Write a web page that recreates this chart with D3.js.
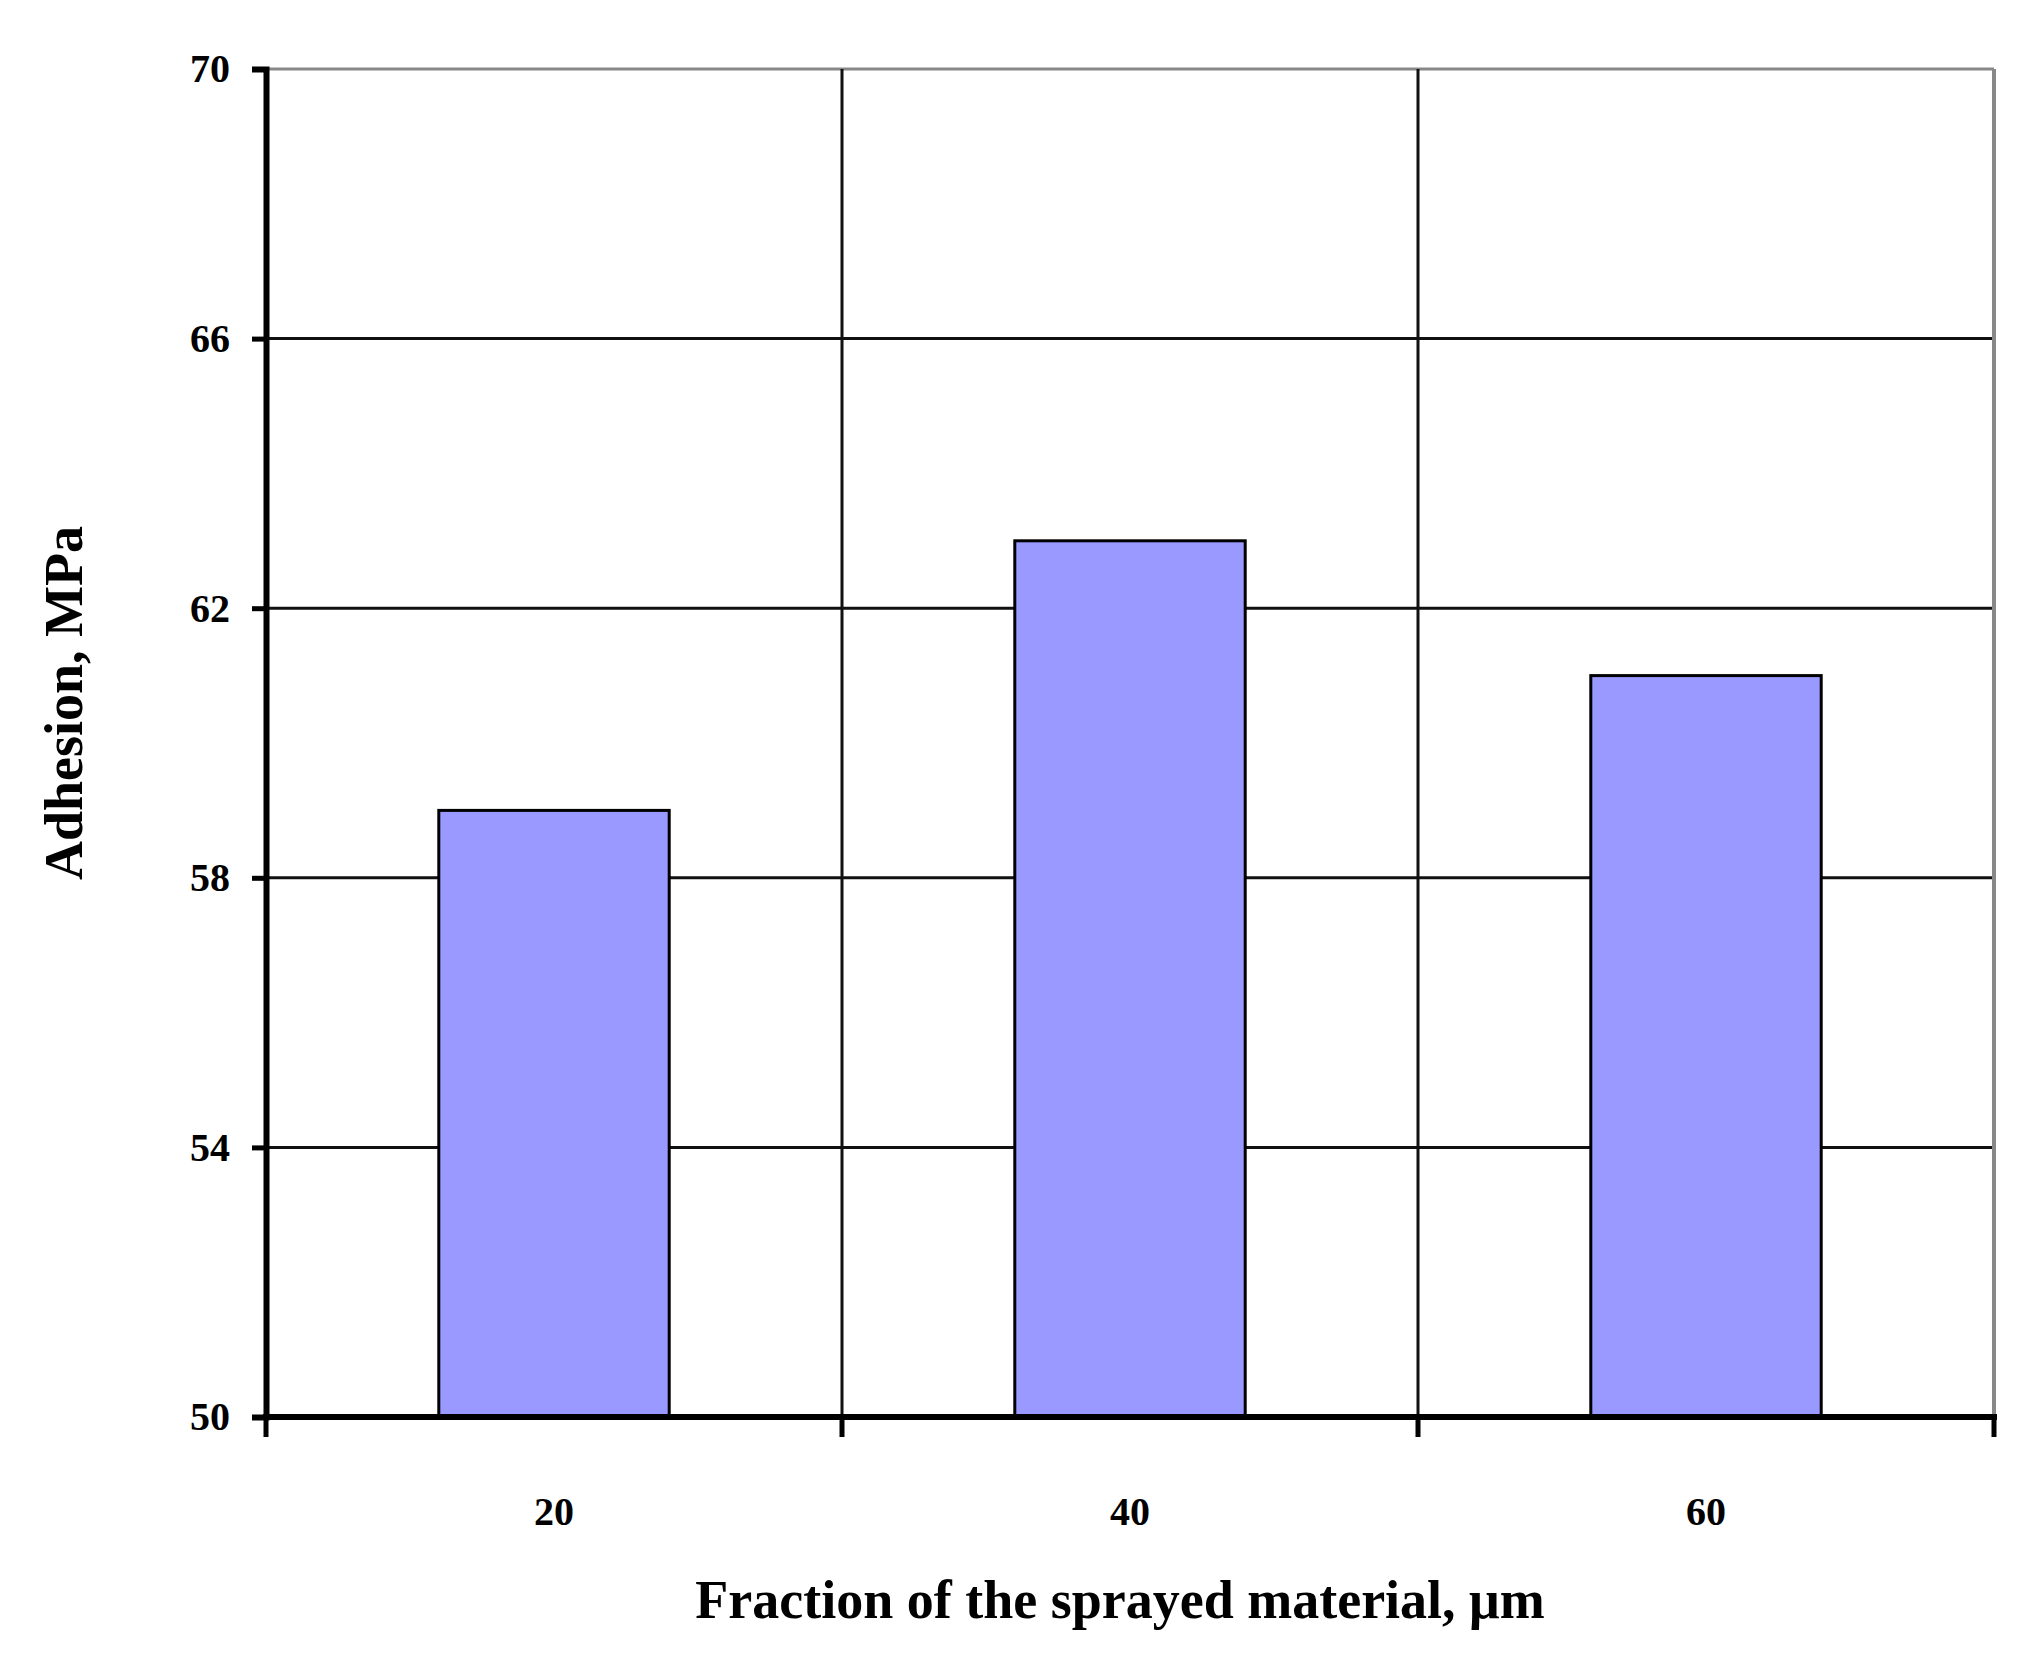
<!DOCTYPE html>
<html>
<head>
<meta charset="utf-8">
<script src="https://cdn.jsdelivr.net/npm/d3@7"></script>
<style>
  body { margin: 0; background: #fff; }
  text { font-family: "Liberation Serif", "Times New Roman", serif; font-weight: bold; fill: #000; }
</style>
</head>
<body>
<svg id="chart" width="2022" height="1659"></svg>
<script>
const categories = ["20", "40", "60"];
const adhesion = [59, 63, 61];
const yTicks = [50, 54, 58, 62, 66, 70];

const svg = d3.select("#chart");
const m = { left: 266, right: 1994, top: 69, bottom: 1417 };

const x = d3.scaleBand().domain(categories).range([m.left, m.right]).paddingInner(0).paddingOuter(0);
const y = d3.scaleLinear().domain([50, 70]).range([m.bottom, m.top]);

// horizontal grid
svg.append("g").selectAll("line").data(yTicks.slice(1)).join("line")
  .attr("x1", m.left).attr("x2", m.right)
  .attr("y1", d => y(d)).attr("y2", d => y(d))
  .attr("stroke", d => d === 70 ? "#888" : "#111").attr("stroke-width", 3);

// vertical grid at band boundaries
svg.append("g").selectAll("line").data(categories.slice(1)).join("line")
  .attr("x1", d => x(d)).attr("x2", d => x(d))
  .attr("y1", m.top).attr("y2", m.bottom)
  .attr("stroke", "#111").attr("stroke-width", 3);
svg.append("line").attr("x1", m.right).attr("x2", m.right)
  .attr("y1", m.top).attr("y2", m.bottom).attr("stroke", "#888").attr("stroke-width", 4);

// bars
const bw = x.bandwidth() * 0.4;
svg.append("g").selectAll("rect").data(adhesion).join("rect")
  .attr("x", (d, i) => x(categories[i]) + (x.bandwidth() - bw) / 2)
  .attr("y", d => y(d))
  .attr("width", bw)
  .attr("height", d => y(50) - y(d))
  .attr("fill", "#9999ff").attr("stroke", "#000").attr("stroke-width", 3);

// y axis
const yAxis = svg.append("g").attr("transform", `translate(${m.left},0)`)
  .call(d3.axisLeft(y).tickValues(yTicks).tickSize(14).tickPadding(22));
yAxis.select(".domain").attr("stroke-width", 6);
yAxis.selectAll(".tick line").attr("stroke-width", 5);
yAxis.selectAll("text").style("font-size", "40px");

// x axis: ticks at band boundaries, labels centred
const xAxis = svg.append("g").attr("transform", `translate(0,${m.bottom})`);
xAxis.append("line").attr("x1", m.left - 3).attr("x2", m.right + 3)
  .attr("stroke", "#000").attr("stroke-width", 6);
const edges = categories.map(c => x(c)).concat([m.right]);
xAxis.selectAll(".tk").data(edges).join("line").attr("class", "tk")
  .attr("x1", d => d).attr("x2", d => d).attr("y1", 0).attr("y2", 20)
  .attr("stroke", "#000").attr("stroke-width", 5);
xAxis.selectAll("text").data(categories).join("text")
  .attr("x", d => x(d) + x.bandwidth() / 2).attr("y", 108)
  .attr("text-anchor", "middle").style("font-size", "40px").text(d => d);

// titles
svg.append("text").attr("x", (m.left + m.right) / 2 - 10).attr("y", 1618)
  .attr("text-anchor", "middle").style("font-size", "54px")
  .text("Fraction of the sprayed material, μm");
svg.append("text").attr("transform", `translate(82,${(m.top + m.bottom) / 2 - 40}) rotate(-90)`)
  .attr("text-anchor", "middle").style("font-size", "54px")
  .text("Adhesion, MPa");
</script>
</body>
</html>
